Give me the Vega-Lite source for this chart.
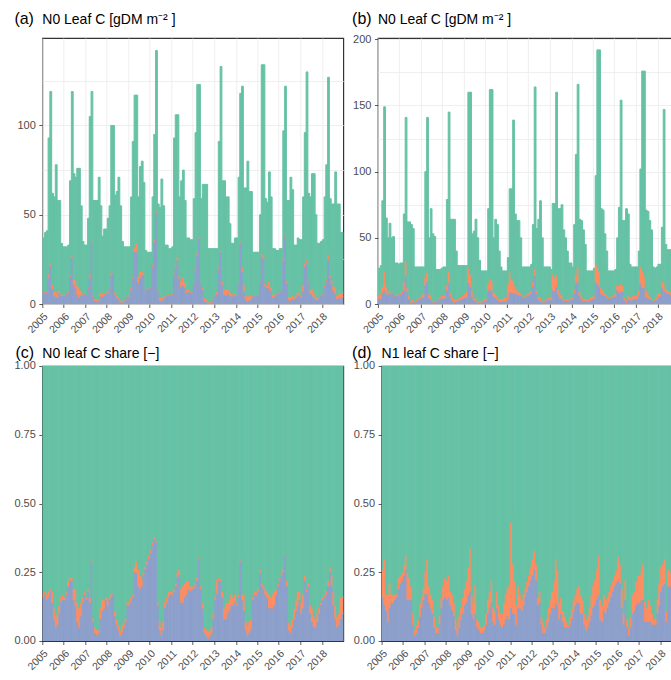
{
  "$schema": "https://vega.github.io/schema/vega-lite/v6.json",
  "padding": {"left": 12.3, "top": 9, "right": 0, "bottom": 0},
  "background": "white",
  "config": {
    "font": "Liberation Sans",
    "view": {"stroke": "#333333", "strokeWidth": 1.2},
    "bar": {"binSpacing": 0, "strokeWidth": 1},
    "axis": {
      "domain": false,
      "labelColor": "#4D4D4D",
      "labelFont": "Liberation Sans",
      "labelFontSize": 11,
      "labelPadding": 3.5,
      "tickColor": "#333333",
      "tickSize": 3.5,
      "tickWidth": 0.8,
      "gridColor": "#EBEBEB",
      "gridWidth": 0.8
    },
    "axisX": {
      "title": null,
      "labelAngle": -45,
      "labelAlign": "right",
      "labelBaseline": "top",
      "labelFontSize": 10.5,
      "labelOverlap": false,
      "labelExpr": "utcFormat(datum.value, '%Y')"
    },
    "axisY": {
      "titleAngle": 0,
      "titleAlign": "left",
      "titleBaseline": "alphabetic",
      "titleFont": "Liberation Sans",
      "titleFontSize": 16,
      "titleFontWeight": "normal",
      "titleColor": "#000000"
    },
    "title": {
      "font": "Liberation Sans",
      "fontSize": 14,
      "fontWeight": "normal",
      "color": "#000000",
      "anchor": "start",
      "frame": "group",
      "offset": -17
    }
  },
  "datasets": {
    "n0": [
      {"d":"2005-01","A":5.9,"B":0.4,"C":30.7},{"d":"2005-02","A":6.8,"B":0.4,"C":32.8},{"d":"2005-03","A":6.2,"B":0.8,"C":34.0},{"d":"2005-04","A":14.9,"B":1.9,"C":76.2},{"d":"2005-05","A":21.4,"B":1.2,"C":96.4},{"d":"2005-06","A":8.7,"B":2.5,"C":50.8},{"d":"2005-07","A":4.8,"B":2.4,"C":52.8},{"d":"2005-08","A":3.9,"B":3.1,"C":71.0},{"d":"2005-09","A":3.5,"B":2.3,"C":52.2},{"d":"2005-10","A":5.8,"B":1.7,"C":50.5},{"d":"2005-11","A":4.8,"B":0.7,"C":28.5},{"d":"2005-12","A":4.8,"B":0.6,"C":26.6},
      {"d":"2006-01","A":4.8,"B":0.3,"C":26.9},{"d":"2006-02","A":5.4,"B":0.3,"C":26.3},{"d":"2006-03","A":6.6,"B":0.7,"C":25.7},{"d":"2006-04","A":15.2,"B":0.7,"C":53.1},{"d":"2006-05","A":26.2,"B":1.2,"C":91.6},{"d":"2006-06","A":11.0,"B":2.9,"C":59.1},{"d":"2006-07","A":9.2,"B":4.3,"C":57.5},{"d":"2006-08","A":5.3,"B":5.3,"C":65.4},{"d":"2006-09","A":3.8,"B":5.3,"C":66.9},{"d":"2006-10","A":5.0,"B":2.7,"C":47.3},{"d":"2006-11","A":4.9,"B":0.7,"C":29.4},{"d":"2006-12","A":5.6,"B":0.3,"C":27.1},
      {"d":"2007-01","A":5.0,"B":0.3,"C":27.7},{"d":"2007-02","A":8.6,"B":0.5,"C":38.9},{"d":"2007-03","A":14.7,"B":2.1,"C":88.2},{"d":"2007-04","A":34.5,"B":0.5,"C":84.0},{"d":"2007-05","A":4.1,"B":0.6,"C":53.3},{"d":"2007-06","A":1.7,"B":1.2,"C":55.1},{"d":"2007-07","A":1.2,"B":1.2,"C":55.6},{"d":"2007-08","A":2.1,"B":0.7,"C":68.2},{"d":"2007-09","A":4.4,"B":2.2,"C":48.4},{"d":"2007-10","A":4.2,"B":1.5,"C":32.3},{"d":"2007-11","A":5.0,"B":1.3,"C":35.7},{"d":"2007-12","A":6.3,"B":0.4,"C":35.3},
      {"d":"2008-01","A":6.2,"B":1.0,"C":40.8},{"d":"2008-02","A":8.3,"B":0.5,"C":46.2},{"d":"2008-03","A":16.0,"B":1.0,"C":83.0},{"d":"2008-04","A":17.0,"B":0.5,"C":82.5},{"d":"2008-05","A":5.5,"B":1.2,"C":54.3},{"d":"2008-06","A":3.8,"B":1.3,"C":57.9},{"d":"2008-07","A":2.8,"B":1.4,"C":66.8},{"d":"2008-08","A":1.1,"B":1.1,"C":52.8},{"d":"2008-09","A":1.1,"B":1.0,"C":32.9},{"d":"2008-10","A":1.6,"B":0.6,"C":29.8},{"d":"2008-11","A":2.2,"B":0.4,"C":29.4},{"d":"2008-12","A":4.2,"B":0.3,"C":27.5},
      {"d":"2009-01","A":4.2,"B":0.3,"C":27.5},{"d":"2009-02","A":8.4,"B":1.2,"C":50.4},{"d":"2009-03","A":14.6,"B":0.9,"C":75.5},{"d":"2009-04","A":29.3,"B":2.3,"C":85.4},{"d":"2009-05","A":29.3,"B":4.7,"C":83.0},{"d":"2009-06","A":12.0,"B":3.6,"C":44.4},{"d":"2009-07","A":14.6,"B":3.9,"C":58.5},{"d":"2009-08","A":16.0,"B":2.4,"C":61.6},{"d":"2009-09","A":16.3,"B":0.7,"C":51.0},{"d":"2009-10","A":7.8,"B":0.3,"C":21.9},{"d":"2009-11","A":8.1,"B":0.3,"C":20.6},{"d":"2009-12","A":8.7,"B":0.3,"C":20.0},
      {"d":"2010-01","A":9.3,"B":0.3,"C":19.4},{"d":"2010-02","A":21.0,"B":0.6,"C":38.4},{"d":"2010-03","A":35.2,"B":0.9,"C":58.9},{"d":"2010-04","A":51.1,"B":0.7,"C":90.2},{"d":"2010-05","A":7.3,"B":0.6,"C":48.1},{"d":"2010-06","A":2.2,"B":1.6,"C":50.2},{"d":"2010-07","A":1.4,"B":2.1,"C":66.5},{"d":"2010-08","A":2.2,"B":1.7,"C":51.1},{"d":"2010-09","A":4.0,"B":0.7,"C":28.3},{"d":"2010-10","A":4.6,"B":0.7,"C":27.7},{"d":"2010-11","A":5.0,"B":0.6,"C":25.4},{"d":"2010-12","A":5.3,"B":0.3,"C":25.4},
      {"d":"2011-01","A":5.4,"B":0.3,"C":26.3},{"d":"2011-02","A":16.7,"B":0.9,"C":75.4},{"d":"2011-03","A":21.2,"B":1.1,"C":83.7},{"d":"2011-04","A":24.4,"B":2.1,"C":79.5},{"d":"2011-05","A":14.4,"B":1.2,"C":44.4},{"d":"2011-06","A":9.7,"B":3.4,"C":55.9},{"d":"2011-07","A":10.5,"B":4.5,"C":60.0},{"d":"2011-08","A":9.3,"B":2.9,"C":45.8},{"d":"2011-09","A":6.3,"B":1.8,"C":28.9},{"d":"2011-10","A":7.0,"B":1.1,"C":28.9},{"d":"2011-11","A":6.5,"B":0.7,"C":28.8},{"d":"2011-12","A":6.8,"B":0.4,"C":28.8},
      {"d":"2012-01","A":11.2,"B":0.6,"C":47.2},{"d":"2012-02","A":19.2,"B":1.0,"C":75.8},{"d":"2012-03","A":27.1,"B":1.2,"C":94.7},{"d":"2012-04","A":36.9,"B":0.6,"C":85.5},{"d":"2012-05","A":11.2,"B":0.6,"C":47.2},{"d":"2012-06","A":8.0,"B":1.4,"C":57.6},{"d":"2012-07","A":2.0,"B":1.4,"C":63.6},{"d":"2012-08","A":1.3,"B":1.4,"C":64.3},{"d":"2012-09","A":0.3,"B":0.9,"C":29.8},{"d":"2012-10","A":0.6,"B":0.6,"C":29.8},{"d":"2012-11","A":0.9,"B":0.7,"C":29.4},{"d":"2012-12","A":2.5,"B":0.6,"C":27.9},
      {"d":"2013-01","A":4.7,"B":0.3,"C":26.0},{"d":"2013-02","A":5.3,"B":1.6,"C":24.1},{"d":"2013-03","A":20.0,"B":0.9,"C":70.1},{"d":"2013-04","A":29.3,"B":0.7,"C":103.0},{"d":"2013-05","A":11.0,"B":1.4,"C":56.6},{"d":"2013-06","A":5.5,"B":2.8,"C":60.7},{"d":"2013-07","A":4.8,"B":3.6,"C":51.6},{"d":"2013-08","A":6.0,"B":2.4,"C":51.6},{"d":"2013-09","A":5.0,"B":1.8,"C":38.2},{"d":"2013-10","A":4.4,"B":1.4,"C":28.2},{"d":"2013-11","A":4.4,"B":1.0,"C":28.6},{"d":"2013-12","A":5.2,"B":1.1,"C":30.7},
      {"d":"2014-01","A":4.8,"B":0.4,"C":31.8},{"d":"2014-02","A":11.4,"B":0.7,"C":58.9},{"d":"2014-03","A":34.2,"B":0.6,"C":83.2},{"d":"2014-04","A":18.3,"B":2.4,"C":101.3},{"d":"2014-05","A":7.2,"B":3.9,"C":53.9},{"d":"2014-06","A":2.6,"B":2.0,"C":60.4},{"d":"2014-07","A":1.6,"B":3.2,"C":75.2},{"d":"2014-08","A":1.9,"B":2.5,"C":58.6},{"d":"2014-09","A":2.5,"B":2.5,"C":58.0},{"d":"2014-10","A":4.4,"B":0.3,"C":24.3},{"d":"2014-11","A":4.9,"B":0.3,"C":23.8},{"d":"2014-12","A":4.9,"B":0.3,"C":23.8},
      {"d":"2015-01","A":5.2,"B":0.3,"C":23.5},{"d":"2015-02","A":12.5,"B":0.5,"C":37.0},{"d":"2015-03","A":26.8,"B":1.3,"C":105.9},{"d":"2015-04","A":25.5,"B":1.3,"C":107.2},{"d":"2015-05","A":10.0,"B":1.2,"C":47.8},{"d":"2015-06","A":9.1,"B":1.1,"C":46.8},{"d":"2015-07","A":8.9,"B":3.7,"C":61.4},{"d":"2015-08","A":7.2,"B":2.4,"C":50.4},{"d":"2015-09","A":3.7,"B":1.6,"C":25.7},{"d":"2015-10","A":4.0,"B":1.6,"C":25.4},{"d":"2015-11","A":5.1,"B":0.6,"C":24.3},{"d":"2015-12","A":6.0,"B":0.3,"C":23.7},
      {"d":"2016-01","A":6.8,"B":0.3,"C":23.9},{"d":"2016-02","A":7.4,"B":0.3,"C":23.3},{"d":"2016-03","A":24.3,"B":1.0,"C":71.7},{"d":"2016-04","A":37.8,"B":0.6,"C":83.6},{"d":"2016-05","A":11.6,"B":1.2,"C":45.2},{"d":"2016-06","A":2.3,"B":1.7,"C":54.0},{"d":"2016-07","A":2.1,"B":2.1,"C":66.8},{"d":"2016-08","A":3.2,"B":1.9,"C":58.9},{"d":"2016-09","A":2.6,"B":1.3,"C":29.1},{"d":"2016-10","A":3.6,"B":1.3,"C":28.1},{"d":"2016-11","A":4.8,"B":1.9,"C":30.3},{"d":"2016-12","A":5.4,"B":1.1,"C":29.5},
      {"d":"2017-01","A":3.6,"B":1.4,"C":31.0},{"d":"2017-02","A":7.2,"B":3.0,"C":49.8},{"d":"2017-03","A":21.1,"B":1.9,"C":73.0},{"d":"2017-04","A":23.4,"B":1.3,"C":105.3},{"d":"2017-05","A":12.4,"B":0.6,"C":49.0},{"d":"2017-06","A":6.0,"B":1.8,"C":52.2},{"d":"2017-07","A":5.1,"B":3.7,"C":64.2},{"d":"2017-08","A":3.7,"B":2.9,"C":66.4},{"d":"2017-09","A":2.5,"B":1.5,"C":46.0},{"d":"2017-10","A":2.4,"B":1.0,"C":30.6},{"d":"2017-11","A":3.4,"B":0.7,"C":29.9},{"d":"2017-12","A":4.6,"B":0.3,"C":30.1},
      {"d":"2018-01","A":5.4,"B":0.4,"C":30.2},{"d":"2018-02","A":9.6,"B":0.6,"C":49.8},{"d":"2018-03","A":13.3,"B":0.8,"C":63.9},{"d":"2018-04","A":25.4,"B":2.5,"C":99.1},{"d":"2018-05","A":14.8,"B":1.2,"C":43.0},{"d":"2018-06","A":11.2,"B":2.2,"C":42.6},{"d":"2018-07","A":7.3,"B":2.8,"C":45.9},{"d":"2018-08","A":5.9,"B":3.7,"C":64.4},{"d":"2018-09","A":2.8,"B":2.2,"C":51.0},{"d":"2018-10","A":3.4,"B":2.2,"C":50.4},{"d":"2018-11","A":3.2,"B":3.2,"C":33.6},{"d":"2018-12","A":4.0,"B":2.4,"C":33.6}
    ],
    "n1": [
      {"d":"2005-01","A":4.3,"B":2.7,"C":20.0},{"d":"2005-02","A":3.8,"B":4.9,"C":20.3},{"d":"2005-03","A":8.6,"B":4.7,"C":64.7},{"d":"2005-04","A":10.4,"B":14.9,"C":123.7},{"d":"2005-05","A":7.8,"B":5.9,"C":51.3},{"d":"2005-06","A":7.0,"B":1.5,"C":41.5},{"d":"2005-07","A":8.5,"B":1.8,"C":50.7},{"d":"2005-08","A":7.5,"B":1.0,"C":41.5},{"d":"2005-09","A":8.2,"B":0.5,"C":42.3},{"d":"2005-10","A":5.9,"B":1.2,"C":23.9},{"d":"2005-11","A":6.5,"B":0.9,"C":23.6},{"d":"2005-12","A":6.6,"B":0.9,"C":22.5},
      {"d":"2006-01","A":7.4,"B":1.2,"C":22.4},{"d":"2006-02","A":8.1,"B":1.6,"C":21.3},{"d":"2006-03","A":10.2,"B":6.8,"C":51.0},{"d":"2006-04","A":21.2,"B":11.3,"C":108.5},{"d":"2006-05","A":9.3,"B":3.1,"C":49.6},{"d":"2006-06","A":3.7,"B":2.5,"C":55.8},{"d":"2006-07","A":1.2,"B":1.2,"C":57.6},{"d":"2006-08","A":1.7,"B":1.7,"C":53.6},{"d":"2006-09","A":1.4,"B":0.8,"C":25.8},{"d":"2006-10","A":2.5,"B":1.4,"C":24.1},{"d":"2006-11","A":3.4,"B":1.1,"C":23.5},{"d":"2006-12","A":4.2,"B":1.1,"C":22.7},
      {"d":"2007-01","A":4.8,"B":2.2,"C":21.0},{"d":"2007-02","A":4.8,"B":3.6,"C":19.6},{"d":"2007-03","A":14.0,"B":6.0,"C":80.0},{"d":"2007-04","A":16.9,"B":7.1,"C":117.0},{"d":"2007-05","A":5.0,"B":2.5,"C":42.5},{"d":"2007-06","A":3.6,"B":2.9,"C":65.5},{"d":"2007-07","A":1.6,"B":1.1,"C":50.3},{"d":"2007-08","A":1.5,"B":1.0,"C":48.5},{"d":"2007-09","A":1.6,"B":0.8,"C":23.6},{"d":"2007-10","A":3.1,"B":1.0,"C":21.9},{"d":"2007-11","A":3.9,"B":1.3,"C":20.8},{"d":"2007-12","A":4.3,"B":1.9,"C":20.8},
      {"d":"2008-01","A":4.2,"B":2.0,"C":21.8},{"d":"2008-02","A":4.5,"B":2.2,"C":21.3},{"d":"2008-03","A":10.3,"B":4.0,"C":64.7},{"d":"2008-04","A":16.0,"B":8.7,"C":120.3},{"d":"2008-05","A":5.8,"B":3.2,"C":55.0},{"d":"2008-06","A":2.6,"B":2.6,"C":58.8},{"d":"2008-07","A":1.3,"B":1.9,"C":60.8},{"d":"2008-08","A":2.0,"B":1.6,"C":36.4},{"d":"2008-09","A":2.3,"B":1.2,"C":25.5},{"d":"2008-10","A":2.9,"B":1.7,"C":24.4},{"d":"2008-11","A":3.8,"B":1.7,"C":23.5},{"d":"2008-12","A":4.1,"B":2.3,"C":22.6},
      {"d":"2009-01","A":4.9,"B":2.9,"C":21.2},{"d":"2009-02","A":5.2,"B":4.6,"C":19.2},{"d":"2009-03","A":16.0,"B":11.2,"C":132.8},{"d":"2009-04","A":12.8,"B":9.6,"C":137.6},{"d":"2009-05","A":5.3,"B":5.3,"C":42.4},{"d":"2009-06","A":2.8,"B":1.7,"C":50.5},{"d":"2009-07","A":2.6,"B":1.9,"C":59.5},{"d":"2009-08","A":1.5,"B":1.0,"C":47.5},{"d":"2009-09","A":1.0,"B":0.7,"C":31.3},{"d":"2009-10","A":1.0,"B":0.5,"C":23.5},{"d":"2009-11","A":1.5,"B":1.0,"C":22.5},{"d":"2009-12","A":2.5,"B":1.3,"C":21.2},
      {"d":"2010-01","A":3.0,"B":1.5,"C":20.5},{"d":"2010-02","A":10.1,"B":5.8,"C":56.1},{"d":"2010-03","A":11.3,"B":8.1,"C":142.6},{"d":"2010-04","A":9.7,"B":8.1,"C":144.2},{"d":"2010-05","A":6.0,"B":3.0,"C":41.0},{"d":"2010-06","A":5.1,"B":3.2,"C":55.7},{"d":"2010-07","A":3.6,"B":2.4,"C":54.0},{"d":"2010-08","A":2.0,"B":2.0,"C":36.0},{"d":"2010-09","A":1.7,"B":2.2,"C":24.1},{"d":"2010-10","A":2.0,"B":2.3,"C":20.7},{"d":"2010-11","A":2.3,"B":2.5,"C":20.2},{"d":"2010-12","A":2.0,"B":3.0,"C":20.0},
      {"d":"2011-01","A":4.2,"B":10.9,"C":19.9},{"d":"2011-02","A":8.7,"B":15.7,"C":62.6},{"d":"2011-03","A":8.7,"B":10.4,"C":67.9},{"d":"2011-04","A":8.3,"B":9.7,"C":121.0},{"d":"2011-05","A":8.2,"B":5.4,"C":54.4},{"d":"2011-06","A":7.6,"B":3.2,"C":52.2},{"d":"2011-07","A":6.9,"B":2.5,"C":53.6},{"d":"2011-08","A":6.5,"B":2.0,"C":41.5},{"d":"2011-09","A":4.5,"B":0.8,"C":22.7},{"d":"2011-10","A":5.0,"B":1.1,"C":21.9},{"d":"2011-11","A":5.6,"B":1.1,"C":21.3},{"d":"2011-12","A":6.2,"B":1.4,"C":20.4},
      {"d":"2012-01","A":6.7,"B":1.7,"C":19.6},{"d":"2012-02","A":7.8,"B":2.1,"C":20.1},{"d":"2012-03","A":13.2,"B":3.6,"C":43.2},{"d":"2012-04","A":21.3,"B":4.9,"C":137.8},{"d":"2012-05","A":8.0,"B":2.3,"C":46.7},{"d":"2012-06","A":3.8,"B":1.9,"C":58.3},{"d":"2012-07","A":2.3,"B":3.1,"C":72.6},{"d":"2012-08","A":1.5,"B":1.0,"C":47.5},{"d":"2012-09","A":1.4,"B":0.8,"C":25.8},{"d":"2012-10","A":2.0,"B":1.4,"C":24.6},{"d":"2012-11","A":2.8,"B":1.4,"C":23.8},{"d":"2012-12","A":3.4,"B":1.7,"C":22.9},
      {"d":"2013-01","A":3.1,"B":2.6,"C":20.3},{"d":"2013-02","A":10.6,"B":12.2,"C":53.2},{"d":"2013-03","A":9.9,"B":9.9,"C":56.2},{"d":"2013-04","A":12.8,"B":9.6,"C":137.6},{"d":"2013-05","A":7.2,"B":4.3,"C":60.5},{"d":"2013-06","A":5.0,"B":2.9,"C":64.1},{"d":"2013-07","A":3.8,"B":3.0,"C":68.2},{"d":"2013-08","A":2.8,"B":1.1,"C":52.1},{"d":"2013-09","A":2.5,"B":0.5,"C":47.0},{"d":"2013-10","A":2.4,"B":1.2,"C":36.4},{"d":"2013-11","A":2.5,"B":1.2,"C":27.3},{"d":"2013-12","A":3.4,"B":1.2,"C":26.4},
      {"d":"2014-01","A":3.6,"B":1.1,"C":23.3},{"d":"2014-02","A":8.4,"B":3.0,"C":48.6},{"d":"2014-03","A":15.8,"B":6.8,"C":90.4},{"d":"2014-04","A":16.6,"B":11.6,"C":137.8},{"d":"2014-05","A":6.4,"B":3.2,"C":54.4},{"d":"2014-06","A":3.8,"B":2.5,"C":56.7},{"d":"2014-07","A":2.2,"B":2.2,"C":51.6},{"d":"2014-08","A":2.3,"B":1.8,"C":40.9},{"d":"2014-09","A":1.8,"B":1.3,"C":21.9},{"d":"2014-10","A":2.3,"B":1.8,"C":20.9},{"d":"2014-11","A":3.0,"B":2.0,"C":20.0},{"d":"2014-12","A":3.3,"B":2.3,"C":19.4},
      {"d":"2015-01","A":4.1,"B":3.0,"C":19.9},{"d":"2015-02","A":16.5,"B":13.6,"C":66.9},{"d":"2015-03","A":15.4,"B":13.4,"C":163.2},{"d":"2015-04","A":13.4,"B":11.5,"C":167.1},{"d":"2015-05","A":7.9,"B":4.3,"C":59.8},{"d":"2015-06","A":7.1,"B":3.6,"C":60.3},{"d":"2015-07","A":6.4,"B":2.1,"C":44.5},{"d":"2015-08","A":5.6,"B":1.6,"C":32.8},{"d":"2015-09","A":4.0,"B":1.0,"C":20.0},{"d":"2015-10","A":4.5,"B":1.0,"C":19.5},{"d":"2015-11","A":5.0,"B":1.0,"C":19.0},{"d":"2015-12","A":5.3,"B":1.2,"C":18.5},
      {"d":"2016-01","A":5.7,"B":2.3,"C":18.0},{"d":"2016-02","A":10.5,"B":3.5,"C":36.0},{"d":"2016-03","A":8.8,"B":5.1,"C":59.1},{"d":"2016-04","A":9.2,"B":6.2,"C":138.6},{"d":"2016-05","A":9.5,"B":4.4,"C":49.1},{"d":"2016-06","A":3.2,"B":1.9,"C":57.9},{"d":"2016-07","A":1.4,"B":2.2,"C":68.4},{"d":"2016-08","A":3.4,"B":2.7,"C":61.9},{"d":"2016-09","A":3.0,"B":2.1,"C":24.9},{"d":"2016-10","A":3.1,"B":2.0,"C":22.9},{"d":"2016-11","A":3.6,"B":2.5,"C":21.9},{"d":"2016-12","A":3.9,"B":2.8,"C":21.3},
      {"d":"2017-01","A":3.9,"B":2.8,"C":21.3},{"d":"2017-02","A":6.0,"B":4.4,"C":29.6},{"d":"2017-03","A":15.3,"B":13.3,"C":73.4},{"d":"2017-04","A":12.3,"B":13.2,"C":150.5},{"d":"2017-05","A":12.3,"B":8.8,"C":154.9},{"d":"2017-06","A":5.0,"B":5.7,"C":60.3},{"d":"2017-07","A":4.9,"B":4.2,"C":60.9},{"d":"2017-08","A":3.8,"B":2.5,"C":56.7},{"d":"2017-09","A":3.4,"B":1.1,"C":51.5},{"d":"2017-10","A":1.7,"B":0.6,"C":25.7},{"d":"2017-11","A":2.7,"B":1.4,"C":22.9},{"d":"2017-12","A":3.6,"B":2.3,"C":22.1},
      {"d":"2018-01","A":5.4,"B":2.7,"C":21.9},{"d":"2018-02","A":6.0,"B":2.4,"C":21.6},{"d":"2018-03","A":12.2,"B":5.2,"C":40.6},{"d":"2018-04","A":10.3,"B":5.9,"C":130.8},{"d":"2018-05","A":9.0,"B":2.7,"C":33.3},{"d":"2018-06","A":8.2,"B":2.1,"C":30.7},{"d":"2018-07","A":7.8,"B":2.1,"C":31.1},{"d":"2018-08","A":6.6,"B":2.5,"C":31.9},{"d":"2018-09","A":3.6,"B":1.8,"C":24.6},{"d":"2018-10","A":3.0,"B":1.8,"C":25.2},{"d":"2018-11","A":3.6,"B":1.8,"C":24.6},{"d":"2018-12","A":4.5,"B":1.8,"C":23.7}
    ]
  },
  "columns": 1,
  "align": "none",
  "spacing": 7,
  "concat": [
    {
      "bounds": "flush",
      "spacing": 34.6,
      "hconcat": [
        {
          "width": 301,
          "height": 266,
          "data": {"name": "n0"},
          "transform": [{"fold": ["A", "B", "C"], "as": ["pool", "value"]}],
          "title": {"text": "N0 Leaf C [gDM m⁻² ]"},
          "mark": {"type": "bar", "clip": true},
          "encoding": {
            "x": {
              "field": "d", "type": "temporal", "timeUnit": "utcyearmonth",
              "scale": {"type": "utc", "domain": [{"year": 2005, "month": 1, "date": 1, "utc": true}, {"year": 2019, "month": 1, "date": 1, "utc": true}]},
              "axis": {
                "values": [{"year": 2005, "utc": true}, {"year": 2006, "utc": true}, {"year": 2007, "utc": true}, {"year": 2008, "utc": true}, {"year": 2009, "utc": true}, {"year": 2010, "utc": true}, {"year": 2011, "utc": true}, {"year": 2012, "utc": true}, {"year": 2013, "utc": true}, {"year": 2014, "utc": true}, {"year": 2015, "utc": true}, {"year": 2016, "utc": true}, {"year": 2017, "utc": true}, {"year": 2018, "utc": true}]}
            },
            "y": {
              "field": "value", "type": "quantitative", "stack": "zero",
              "scale": {"domain": [0, 149], "nice": false},
              "axis": {"title": "(a)", "titleX": -28.4, "titleY": -15, "values": [0, 25, 50, 75, 100, 125],
                "labelExpr": "datum.value % 50 === 0 ? datum.label : ''",
                "tickOpacity": {"condition": {"test": "datum.value % 50 === 0", "value": 1}, "value": 0}}
            },
            "color": {"field": "pool", "type": "nominal", "legend": null,
              "scale": {"domain": ["A", "B", "C"], "range": ["#8da0cb", "#fc8d62", "#66c2a5"]}},
            "stroke": {"field": "pool", "type": "nominal", "legend": null,
              "scale": {"domain": ["A", "B", "C"], "range": ["#8da0cb", "#fc8d62", "#66c2a5"]}},
            "order": {"field": "pool", "type": "nominal", "sort": "ascending"}
          }
        },
        {
          "width": 301,
          "height": 266,
          "data": {"name": "n1"},
          "transform": [{"fold": ["A", "B", "C"], "as": ["pool", "value"]}],
          "title": {"text": "N0 Leaf C [gDM m⁻² ]"},
          "mark": {"type": "bar", "clip": true},
          "encoding": {
            "x": {
              "field": "d", "type": "temporal", "timeUnit": "utcyearmonth",
              "scale": {"type": "utc", "domain": [{"year": 2005, "month": 1, "date": 1, "utc": true}, {"year": 2019, "month": 1, "date": 1, "utc": true}]},
              "axis": {
                "values": [{"year": 2005, "utc": true}, {"year": 2006, "utc": true}, {"year": 2007, "utc": true}, {"year": 2008, "utc": true}, {"year": 2009, "utc": true}, {"year": 2010, "utc": true}, {"year": 2011, "utc": true}, {"year": 2012, "utc": true}, {"year": 2013, "utc": true}, {"year": 2014, "utc": true}, {"year": 2015, "utc": true}, {"year": 2016, "utc": true}, {"year": 2017, "utc": true}, {"year": 2018, "utc": true}]}
            },
            "y": {
              "field": "value", "type": "quantitative", "stack": "zero",
              "scale": {"domain": [0, 201], "nice": false},
              "axis": {"title": "(b)", "titleX": -26.3, "titleY": -15, "values": [0, 25, 50, 75, 100, 125, 150, 175, 200],
                "labelExpr": "datum.value % 50 === 0 ? datum.label : ''",
                "tickOpacity": {"condition": {"test": "datum.value % 50 === 0", "value": 1}, "value": 0}}
            },
            "color": {"field": "pool", "type": "nominal", "legend": null,
              "scale": {"domain": ["A", "B", "C"], "range": ["#8da0cb", "#fc8d62", "#66c2a5"]}},
            "stroke": {"field": "pool", "type": "nominal", "legend": null,
              "scale": {"domain": ["A", "B", "C"], "range": ["#8da0cb", "#fc8d62", "#66c2a5"]}},
            "order": {"field": "pool", "type": "nominal", "sort": "ascending"}
          }
        }
      ]
    },
    {
      "bounds": "flush",
      "spacing": 38.3,
      "hconcat": [
        {
          "width": 301,
          "height": 275,
          "data": {"name": "n0"},
          "transform": [{"fold": ["A", "B", "C"], "as": ["pool", "value"]}],
          "title": {"text": "N0 leaf C share [−]"},
          "mark": {"type": "bar", "clip": true},
          "encoding": {
            "x": {
              "field": "d", "type": "temporal", "timeUnit": "utcyearmonth",
              "scale": {"type": "utc", "domain": [{"year": 2005, "month": 1, "date": 1, "utc": true}, {"year": 2019, "month": 1, "date": 1, "utc": true}]},
              "axis": {"grid": false,
                "values": [{"year": 2005, "utc": true}, {"year": 2006, "utc": true}, {"year": 2007, "utc": true}, {"year": 2008, "utc": true}, {"year": 2009, "utc": true}, {"year": 2010, "utc": true}, {"year": 2011, "utc": true}, {"year": 2012, "utc": true}, {"year": 2013, "utc": true}, {"year": 2014, "utc": true}, {"year": 2015, "utc": true}, {"year": 2016, "utc": true}, {"year": 2017, "utc": true}, {"year": 2018, "utc": true}]}
            },
            "y": {
              "field": "value", "type": "quantitative", "stack": "normalize",
              "scale": {"domain": [0, 1], "nice": false},
              "axis": {"grid": false, "title": "(c)", "titleX": -27.4, "titleY": -8.5, "values": [0, 0.25, 0.5, 0.75, 1], "labelExpr": "format(datum.value, '.2f')"}
            },
            "color": {"field": "pool", "type": "nominal", "legend": null,
              "scale": {"domain": ["A", "B", "C"], "range": ["#8da0cb", "#fc8d62", "#66c2a5"]}},
            "stroke": {"field": "pool", "type": "nominal", "legend": null,
              "scale": {"domain": ["A", "B", "C"], "range": ["#8da0cb", "#fc8d62", "#66c2a5"]}},
            "order": {"field": "pool", "type": "nominal", "sort": "ascending"}
          }
        },
        {
          "width": 300,
          "height": 275,
          "data": {"name": "n1"},
          "transform": [{"fold": ["A", "B", "C"], "as": ["pool", "value"]}],
          "title": {"text": "N1 leaf C share [−]"},
          "mark": {"type": "bar", "clip": true},
          "encoding": {
            "x": {
              "field": "d", "type": "temporal", "timeUnit": "utcyearmonth",
              "scale": {"type": "utc", "domain": [{"year": 2005, "month": 1, "date": 1, "utc": true}, {"year": 2019, "month": 1, "date": 1, "utc": true}]},
              "axis": {"grid": false,
                "values": [{"year": 2005, "utc": true}, {"year": 2006, "utc": true}, {"year": 2007, "utc": true}, {"year": 2008, "utc": true}, {"year": 2009, "utc": true}, {"year": 2010, "utc": true}, {"year": 2011, "utc": true}, {"year": 2012, "utc": true}, {"year": 2013, "utc": true}, {"year": 2014, "utc": true}, {"year": 2015, "utc": true}, {"year": 2016, "utc": true}, {"year": 2017, "utc": true}, {"year": 2018, "utc": true}]}
            },
            "y": {
              "field": "value", "type": "quantitative", "stack": "normalize",
              "scale": {"domain": [0, 1], "nice": false},
              "axis": {"grid": false, "title": "(d)", "titleX": -30, "titleY": -8.5, "values": [0, 0.25, 0.5, 0.75, 1], "labelExpr": "format(datum.value, '.2f')"}
            },
            "color": {"field": "pool", "type": "nominal", "legend": null,
              "scale": {"domain": ["A", "B", "C"], "range": ["#8da0cb", "#fc8d62", "#66c2a5"]}},
            "stroke": {"field": "pool", "type": "nominal", "legend": null,
              "scale": {"domain": ["A", "B", "C"], "range": ["#8da0cb", "#fc8d62", "#66c2a5"]}},
            "order": {"field": "pool", "type": "nominal", "sort": "ascending"}
          }
        }
      ]
    }
  ]
}
